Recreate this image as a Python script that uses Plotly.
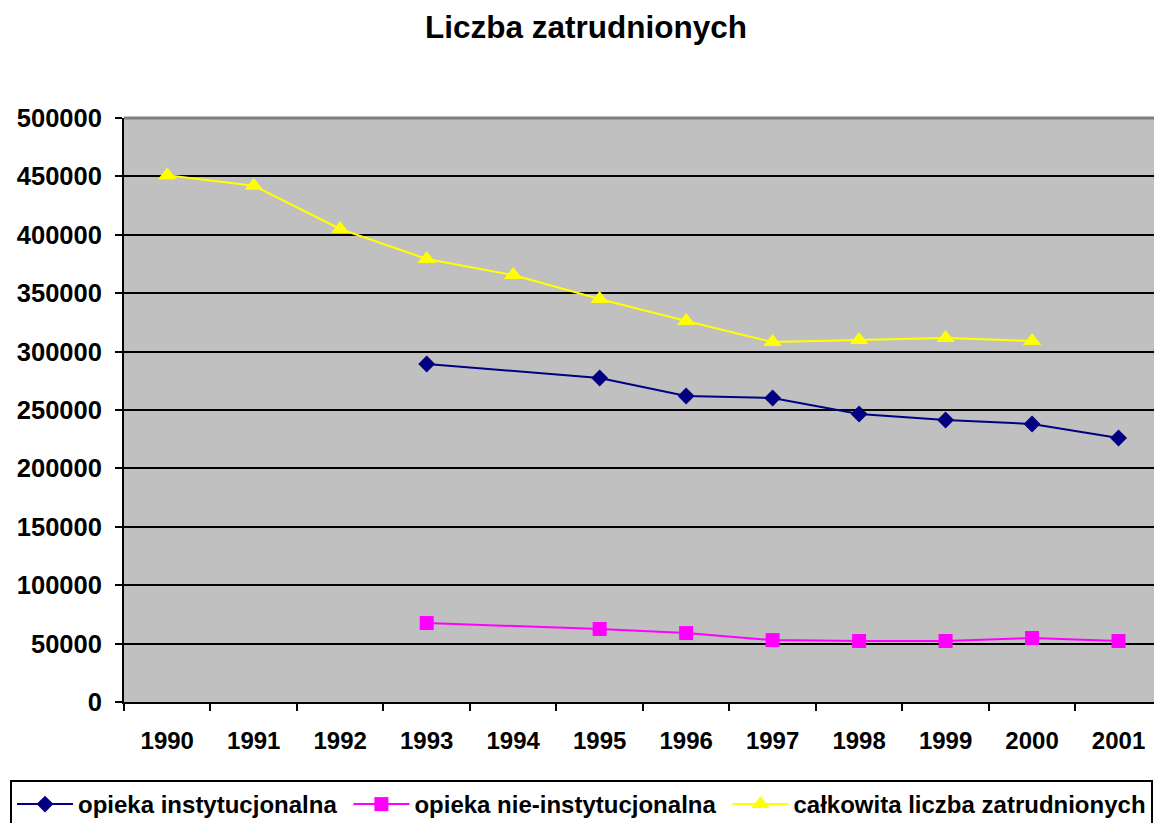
import plotly.graph_objects as go

years = ["1990", "1991", "1992", "1993", "1994", "1995", "1996",
         "1997", "1998", "1999", "2000", "2001"]

inst_years = ["1993", "1995", "1996", "1997", "1998", "1999", "2000", "2001"]
inst_values = [289400, 277400, 262000, 260300, 246600, 241400, 238000, 226000]

noninst_years = ["1993", "1995", "1996", "1997", "1998", "1999", "2000", "2001"]
noninst_values = [67600, 62500, 59000, 53000, 52200, 52200, 54800, 52200]

total_years = ["1990", "1991", "1992", "1993", "1994", "1995", "1996",
               "1997", "1998", "1999", "2000"]
total_values = [451000, 442000, 405000, 379300, 365600, 345000, 326200,
                308200, 310000, 311600, 309000]

y_ticks = [0, 50000, 100000, 150000, 200000, 250000, 300000, 350000,
           400000, 450000, 500000]

FONT = "Liberation Sans, Arial, sans-serif"
NBSP = "\u00a0"

W, H = 1154, 823
PL, PT = 124, 118
PLOT_BOTTOM = 702
PB = H - PLOT_BOTTOM
PW = W - PL
PH = PLOT_BOTTOM - PT

fig = go.Figure()
fig.add_trace(go.Scatter(
    x=inst_years, y=inst_values, name="opieka instytucjonalna" + NBSP,
    mode="lines+markers",
    line=dict(color="#000080", width=2),
    marker=dict(symbol="diamond", size=13, color="#000080"),
))
fig.add_trace(go.Scatter(
    x=noninst_years, y=noninst_values, name="opieka nie-instytucjonalna" + NBSP,
    mode="lines+markers",
    line=dict(color="#FF00FF", width=2),
    marker=dict(symbol="square", size=14, color="#FF00FF"),
))
fig.add_trace(go.Scatter(
    x=total_years, y=total_values, name="całkowita liczba zatrudnionych",
    mode="lines+markers",
    line=dict(color="#FFFF00", width=2),
    marker=dict(symbol="triangle-up", size=16, color="#FFFF00"),
))

fig.update_layout(
    width=W, height=H,
    margin=dict(l=PL, r=0, t=PT, b=PB, autoexpand=False),
    paper_bgcolor="white",
    plot_bgcolor="#C0C0C0",
    font=dict(family=FONT, size=24, color="black"),
    title=dict(
        text="<b>Liczba zatrudnionych</b>",
        font=dict(family=FONT, size=31.5, color="black"),
        xref="container", yref="container",
        x=586 / W, y=1 - 27 / H, xanchor="center", yanchor="middle",
    ),
    showlegend=True,
    legend=dict(
        orientation="h",
        xref="paper", yref="paper",
        x=(10 - PL) / PW, y=(PLOT_BOTTOM - 780) / PH, xanchor="left", yanchor="top",
        bordercolor="black", borderwidth=2, bgcolor="white",
        font=dict(family=FONT, size=24, color="black", weight="bold"),
        itemwidth=56,
    ),
    xaxis=dict(
        type="category",
        categoryorder="array", categoryarray=years,
        range=[-0.5, 11.41],
        tickson="boundaries",
        ticks="outside", ticklen=7, tickwidth=2, tickcolor="black",
        showline=True, linecolor="black", linewidth=2,
        showgrid=False, zeroline=False, automargin=False,
        tickfont=dict(family=FONT, size=24, color="black", weight="bold"),
        ticklabelstandoff=16,
    ),
    yaxis=dict(
        range=[0, 500000],
        tickvals=y_ticks,
        ticktext=[str(v) for v in y_ticks],
        ticks="outside", ticklen=7, tickwidth=2, tickcolor="black",
        showline=True, linecolor="black", linewidth=2,
        showgrid=True, gridcolor="black", gridwidth=2,
        zeroline=False, automargin=False,
        tickfont=dict(family=FONT, size=25.5, color="black", weight="bold"),
        ticklabelstandoff=8,
    ),
    shapes=[dict(
        type="line", xref="paper", yref="paper",
        x0=0, x1=1, y0=1, y1=1,
        line=dict(color="#808080", width=3), layer="above",
    )],
)

fig.write_html(
    "out.html",
    config={"displayModeBar": False},
    post_script="document.body.style.margin='0px';"
                "document.body.style.overflow='hidden';",
)
